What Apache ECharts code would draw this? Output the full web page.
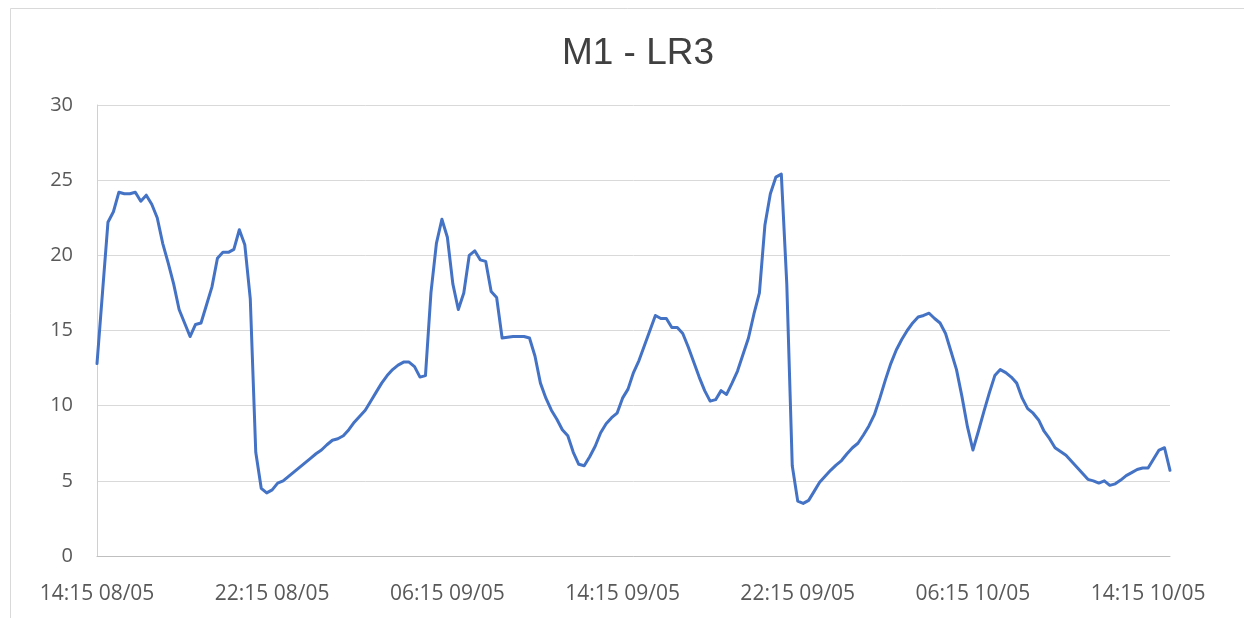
<!DOCTYPE html>
<html>
<head>
<meta charset="utf-8">
<script src="https://cdn.jsdelivr.net/npm/echarts@6/dist/echarts.min.js"></script>
<style>
  html, body { margin: 0; padding: 0; background: #fff; }
  #chart { width: 1244px; height: 618px; }
</style>
</head>
<body>
<div id="chart"></div>
<script>
var TITLE = 'M1 - LR3';

// readings every 15 minutes, starting 14:15 08/05
var START = { day: 8, month: 5, hour: 14, minute: 15 };
var STEP_MIN = 15;

var values = [
    12.8, 17.5, 22.2, 22.9, 24.2, 24.1, 24.1, 24.2, 23.6, 24.0,
    23.4, 22.5, 20.8, 19.5, 18.1, 16.4, 15.5, 14.6, 15.4, 15.5,
    16.7, 17.9, 19.8, 20.2, 20.2, 20.4, 21.7, 20.7, 17.1, 6.9,
    4.5, 4.2, 4.4, 4.85, 5.0, 5.3, 5.6, 5.9, 6.2, 6.5,
    6.8, 7.05, 7.4, 7.7, 7.8, 8.0, 8.4, 8.9, 9.3, 9.7,
    10.3, 10.9, 11.5, 12.0, 12.4, 12.7, 12.9, 12.9, 12.6, 11.9,
    12.0, 17.5, 20.8, 22.4, 21.2, 18.1, 16.4, 17.5, 20.0, 20.3,
    19.7, 19.6, 17.6, 17.2, 14.5, 14.55, 14.6, 14.6, 14.6, 14.5,
    13.3, 11.5, 10.5, 9.7, 9.1, 8.4, 8.0, 6.9, 6.1, 6.0,
    6.6, 7.3, 8.2, 8.8, 9.2, 9.5, 10.5, 11.1, 12.2, 13.0,
    14.0, 15.0, 16.0, 15.8, 15.8, 15.2, 15.2, 14.8, 13.9, 12.9,
    11.9, 11.0, 10.3, 10.4, 11.0, 10.75, 11.5, 12.3, 13.4, 14.5,
    16.1, 17.5, 22.0, 24.1, 25.2, 25.4, 18.1, 6.0, 3.65, 3.5,
    3.7, 4.3, 4.9, 5.3, 5.7, 6.05, 6.35, 6.8, 7.2, 7.5,
    8.05, 8.65, 9.4, 10.5, 11.7, 12.8, 13.7, 14.4, 15.0, 15.5,
    15.9, 16.0, 16.15, 15.8, 15.5, 14.8, 13.6, 12.4, 10.6, 8.6,
    7.05, 8.3, 9.6, 10.85, 12.0, 12.4, 12.2, 11.9, 11.5, 10.5,
    9.8, 9.5, 9.05, 8.3, 7.8, 7.2, 6.95, 6.7, 6.3, 5.9,
    5.5, 5.1, 5.0, 4.85, 5.0, 4.7, 4.8, 5.05, 5.35, 5.55,
    5.75, 5.85, 5.85, 6.45, 7.05, 7.2, 5.7
];

function pad(n) { return (n < 10 ? '0' : '') + n; }

var categories = [];
var d = new Date(2024, START.month - 1, START.day, START.hour, START.minute);
for (var i = 0; i < values.length; i++) {
    categories.push(pad(d.getHours()) + ':' + pad(d.getMinutes()) + ' ' +
        pad(d.getDate()) + '/' + pad(d.getMonth() + 1));
    d = new Date(d.getTime() + STEP_MIN * 60000);
}

var chart = echarts.init(document.getElementById('chart'));
chart.setOption({
    animation: false,
    backgroundColor: '#fff',
    textStyle: { fontFamily: 'Open Sans' },
    title: {
        text: TITLE,
        left: 633,
        textAlign: 'center',
        top: 30,
        textStyle: { fontFamily: 'Liberation Sans', fontSize: 37, fontWeight: 'normal', color: '#404040' }
    },
    graphic: [{
        type: 'polyline',
        shape: { points: [[10.5, 630], [10.5, 8.5], [1260, 8.5]] },
        style: { stroke: '#d9d9d9', lineWidth: 1, fill: null },
        silent: true
    }],
    grid: { left: 97, right: 74, top: 105, bottom: 62 },
    xAxis: {
        type: 'category',
        data: categories,
        boundaryGap: false,
        axisLine: { lineStyle: { color: '#bfbfbf', width: 1 } },
        axisTick: { show: false },
        axisLabel: {
            interval: 31,
            margin: 28,
            fontSize: 21,
            color: '#595959',
            fontFamily: 'Open Sans'
        },
        splitLine: { show: false }
    },
    yAxis: {
        type: 'value',
        min: 0,
        max: 30,
        interval: 5,
        axisLine: { show: true, lineStyle: { color: '#d0d0d0', width: 1 } },
        axisTick: { show: false },
        axisLabel: { margin: 24, fontSize: 20, color: '#595959', fontFamily: 'Open Sans' },
        splitLine: { lineStyle: { color: '#d9d9d9', width: 1 } }
    },
    series: [{
        name: TITLE,
        type: 'line',
        data: values,
        showSymbol: false,
        smooth: false,
        lineStyle: { color: '#4472c4', width: 3, join: 'round', cap: 'round' }
    }]
});
</script>
</body>
</html>
